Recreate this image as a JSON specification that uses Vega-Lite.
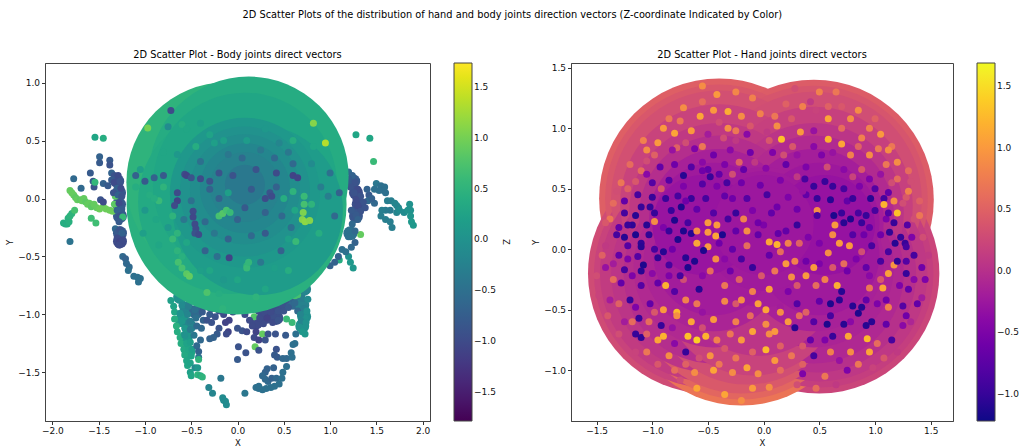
{"$schema":"https://vega.github.io/schema/vega-lite/v6.json","background":"white","padding":{"left":5,"top":9,"right":5,"bottom":0},"title":{"text":"2D Scatter Plots of the distribution of hand and body joints direction vectors (Z-coordinate Indicated by Color)","anchor":"middle","fontSize":9.8,"fontWeight":"normal","font":"DejaVu Sans","color":"#000","offset":30},
"datasets":{
"bodyMid":[{"x":-0.62,"y":-0.85,"z":0},{"x":-0.55,"y":-0.95,"z":-0.2},{"x":-0.6,"y":-1.05,"z":0.1},{"x":-0.52,"y":-1.1,"z":-0.2},{"x":-0.56,"y":-1.2,"z":0.1},{"x":-0.53,"y":-1.32,"z":0.3},{"x":-0.5,"y":-0.82,"z":-0.3},{"x":-0.42,"y":-0.85,"z":-0.6},{"x":-0.45,"y":-0.98,"z":-0.6},{"x":-0.36,"y":-0.9,"z":-0.8},{"x":-0.28,"y":-0.92,"z":-0.9},{"x":-0.2,"y":-0.9,"z":-0.9},{"x":0.25,"y":-0.95,"z":-1},{"x":0.32,"y":-1.02,"z":-1},{"x":0.4,"y":-0.95,"z":-1},{"x":0.42,"y":-1.03,"z":-0.95},{"x":0.5,"y":-0.9,"z":-0.9},{"x":0.55,"y":-0.82,"z":-0.8},{"x":0.6,"y":-0.9,"z":-0.6},{"x":0.66,"y":-0.82,"z":-0.4},{"x":0.7,"y":-0.92,"z":-0.25},{"x":0.72,"y":-0.78,"z":-0.2},{"x":0.72,"y":-1.02,"z":-0.05},{"x":0.3,"y":-0.88,"z":-1},{"x":0.4,"y":-0.85,"z":-1},{"x":0.2,"y":-1.07,"z":-1},{"x":0.7,"y":-1.1,"z":0.05},{"x":-1.3,"y":0.15,"z":-0.9},{"x":-1.28,"y":0.05,"z":-0.85},{"x":-1.28,"y":-0.05,"z":-0.85},{"x":-1.27,"y":-0.15,"z":-0.8},{"x":-1.27,"y":-0.3,"z":-0.8},{"x":-1.27,"y":-0.37,"z":-1},{"x":1.25,"y":0.15,"z":-0.8},{"x":1.28,"y":0.05,"z":-0.95},{"x":1.31,"y":-0.05,"z":-0.95},{"x":1.28,"y":-0.15,"z":-0.85},{"x":1.22,"y":-0.3,"z":-0.5}],
"bodyOut":[{"x":-1.81,"y":0.07,"z":0.9},{"x":-1.79,"y":0.05,"z":0.9},{"x":-1.77,"y":0.03,"z":0.9},{"x":-1.75,"y":0.01,"z":0.85},{"x":-1.73,"y":-0.01,"z":0.9},{"x":-1.7,"y":-0.01,"z":0.85},{"x":-1.68,"y":-0.02,"z":0.9},{"x":-1.66,"y":0.0,"z":0.9},{"x":-1.64,"y":-0.03,"z":0.85},{"x":-1.62,"y":-0.05,"z":0.9},{"x":-1.6,"y":-0.04,"z":0.9},{"x":-1.58,"y":-0.07,"z":0.85},{"x":-1.55,"y":-0.05,"z":0.9},{"x":-1.52,"y":-0.08,"z":0.9},{"x":-1.49,"y":-0.09,"z":0.95},{"x":-1.45,"y":-0.07,"z":0.95},{"x":-1.42,"y":-0.09,"z":0.95},{"x":-1.38,"y":-0.1,"z":0.95},{"x":-1.35,"y":-0.11,"z":0.95},{"x":-1.32,"y":0.02,"z":0.85},{"x":-1.33,"y":-0.05,"z":0.85},{"x":-1.88,"y":-0.21,"z":0.4},{"x":-1.86,"y":-0.22,"z":0.4},{"x":-1.84,"y":-0.22,"z":0.4},{"x":-1.82,"y":-0.2,"z":0.45},{"x":-1.83,"y":-0.17,"z":0.45},{"x":-1.81,"y":-0.15,"z":0.5},{"x":-1.79,"y":-0.13,"z":0.5},{"x":-1.76,"y":-0.1,"z":0.7},{"x":-1.58,"y":-0.17,"z":0.65},{"x":-1.53,"y":-0.21,"z":0.65},{"x":-1.81,"y":-0.37,"z":-0.45},{"x":-1.77,"y":0.17,"z":-0.6},{"x":-1.69,"y":0.09,"z":-0.6},{"x":-1.59,"y":0.22,"z":-0.8},{"x":-1.56,"y":0.15,"z":-0.8},{"x":-1.55,"y":0.1,"z":-0.9},{"x":-1.45,"y":0.13,"z":-0.7},{"x":-1.4,"y":0.11,"z":-0.8},{"x":-1.48,"y":-0.01,"z":-0.9},{"x":-1.45,"y":-0.03,"z":-1},{"x":-1.49,"y":0.36,"z":-0.7},{"x":-1.49,"y":0.31,"z":-0.8},{"x":-1.38,"y":0.33,"z":-0.8},{"x":-1.38,"y":0.29,"z":-0.9},{"x":-1.54,"y":0.53,"z":0.3},{"x":-1.45,"y":0.52,"z":0.4},{"x":-1.54,"y":0.14,"z":0.55},
{"x":-1.36,"y":0.22,"z":-0.7},{"x":-1.33,"y":0.2,"z":-0.9},{"x":-1.36,"y":0.16,"z":-0.8},{"x":-1.33,"y":0.14,"z":-1},{"x":-1.29,"y":0.2,"z":-1},{"x":-1.27,"y":0.15,"z":-0.9},{"x":-1.3,"y":0.09,"z":-0.7},{"x":-1.26,"y":0.09,"z":-1},{"x":-1.34,"y":0.05,"z":-0.9},{"x":-1.29,"y":0.03,"z":-0.7},{"x":-1.25,"y":0.02,"z":-0.9},{"x":-1.28,"y":-0.04,"z":-1},{"x":-1.25,"y":-0.09,"z":-0.8},{"x":-1.3,"y":-0.1,"z":-0.7},{"x":-1.27,"y":-0.15,"z":-0.9},{"x":-1.24,"y":-0.16,"z":0.6},{"x":-1.28,"y":-0.2,"z":-0.8},{"x":-1.32,"y":-0.26,"z":-0.6},{"x":-1.3,"y":-0.29,"z":-0.8},{"x":-1.27,"y":-0.27,"z":-0.9},{"x":-1.25,"y":-0.3,"z":-0.7},{"x":-1.3,"y":-0.34,"z":-1},{"x":-1.27,"y":-0.37,"z":-1.1},{"x":-1.24,"y":-0.36,"z":-1},{"x":-1.28,"y":-0.4,"z":-1},{"x":-1.24,"y":-0.5,"z":-0.6},{"x":-1.21,"y":-0.52,"z":-0.7},{"x":-1.2,"y":-0.56,"z":-0.6},{"x":-1.17,"y":-0.59,"z":-0.6},{"x":-1.18,"y":-0.62,"z":-0.5},{"x":-1.12,"y":-0.67,"z":-0.5},{"x":-1.08,"y":-0.68,"z":-0.5},{"x":-1.05,"y":-0.69,"z":-0.5},{"x":-1.07,"y":-0.72,"z":-0.5},
{"x":1.28,"y":0.55,"z":0.3},{"x":1.43,"y":0.52,"z":0.3},{"x":1.47,"y":0.32,"z":0.6},{"x":1.33,"y":-0.31,"z":0.9},{"x":1.1,"y":-0.53,"z":0.4},{"x":1.25,"y":-0.6,"z":0.1},{"x":1.22,"y":-0.55,"z":0.1},{"x":1.2,"y":-0.5,"z":0},{"x":1.5,"y":0.13,"z":-0.4},{"x":1.55,"y":0.11,"z":-0.5},{"x":1.59,"y":0.1,"z":-0.5},{"x":1.58,"y":0.07,"z":-0.5},{"x":1.48,"y":0.08,"z":-0.5},{"x":1.53,"y":0.07,"z":-0.5},{"x":1.6,"y":0.05,"z":-0.5},{"x":1.62,"y":-0.02,"z":-0.3},{"x":1.66,"y":-0.02,"z":-0.3},{"x":1.7,"y":-0.04,"z":-0.2},{"x":1.72,"y":-0.06,"z":-0.2},{"x":1.74,"y":-0.08,"z":-0.2},{"x":1.72,"y":-0.12,"z":-0.2},{"x":1.65,"y":-0.1,"z":-0.35},{"x":1.6,"y":-0.1,"z":-0.35},{"x":1.56,"y":-0.1,"z":-0.3},{"x":1.55,"y":-0.15,"z":-0.3},{"x":1.6,"y":-0.18,"z":-0.3},{"x":1.65,"y":-0.2,"z":-0.3},{"x":1.67,"y":-0.25,"z":-0.3},{"x":1.75,"y":-0.1,"z":-0.1},{"x":1.8,"y":-0.12,"z":-0.1},{"x":1.84,"y":-0.1,"z":0},{"x":1.86,"y":-0.05,"z":0},{"x":1.87,"y":-0.1,"z":0},{"x":1.87,"y":-0.15,"z":0.05},{"x":1.88,"y":-0.2,"z":0.1},{"x":1.9,"y":-0.23,"z":0.1},{"x":1.42,"y":0.03,"z":-0.8},{"x":1.4,"y":0.08,"z":-0.7},{"x":1.41,"y":-0.02,"z":-0.6},{"x":1.48,"y":-0.04,"z":-0.6},{"x":1.45,"y":0.0,"z":-0.7},
{"x":1.2,"y":0.23,"z":-0.6},{"x":1.24,"y":0.2,"z":-0.7},{"x":1.2,"y":0.17,"z":-0.8},{"x":1.27,"y":0.14,"z":-0.9},{"x":1.22,"y":0.1,"z":-0.9},{"x":1.3,"y":0.08,"z":-1},{"x":1.26,"y":0.05,"z":-0.9},{"x":1.33,"y":0.02,"z":-0.9},{"x":1.28,"y":-0.01,"z":-1},{"x":1.36,"y":-0.03,"z":-0.9},{"x":1.3,"y":-0.06,"z":-1},{"x":1.38,"y":-0.08,"z":-0.9},{"x":1.33,"y":-0.11,"z":-0.9},{"x":1.28,"y":-0.14,"z":-0.8},{"x":1.23,"y":-0.1,"z":-0.8},{"x":1.3,"y":-0.18,"z":-0.7},{"x":1.24,"y":-0.22,"z":-0.6},{"x":1.27,"y":-0.28,"z":-0.6},{"x":1.2,"y":-0.33,"z":-0.5},{"x":1.27,"y":-0.38,"z":-0.7},{"x":1.23,"y":-0.42,"z":-0.6},{"x":1.13,"y":-0.44,"z":-0.5},{"x":1.17,"y":-0.46,"z":-0.5},{"x":1.0,"y":-0.58,"z":-0.7},{"x":1.05,"y":-0.55,"z":-0.7},{"x":1.09,"y":-0.5,"z":-0.7},
{"x":-0.72,"y":-0.88,"z":0.2},{"x":-0.69,"y":-0.93,"z":0.25},{"x":-0.68,"y":-0.98,"z":0.3},{"x":-0.68,"y":-1.04,"z":0.4},{"x":-0.66,"y":-1.1,"z":0.45},{"x":-0.65,"y":-1.15,"z":0.4},{"x":-0.62,"y":-1.2,"z":0.4},{"x":-0.61,"y":-1.25,"z":0.4},{"x":-0.58,"y":-1.3,"z":0.35},{"x":-0.57,"y":-1.35,"z":0.35},{"x":-0.55,"y":-1.4,"z":0.3},{"x":-0.54,"y":-1.44,"z":0.3},{"x":-0.51,"y":-1.42,"z":0.25},{"x":-0.5,"y":-1.36,"z":0.25},{"x":-0.53,"y":-1.3,"z":0.3},{"x":-0.49,"y":-1.3,"z":0.2},{"x":-0.55,"y":-1.25,"z":0.25},{"x":-0.51,"y":-1.24,"z":0.2},{"x":-0.62,"y":-0.85,"z":0},{"x":-0.6,"y":-0.92,"z":-0.1},{"x":-0.62,"y":-0.99,"z":0},{"x":-0.6,"y":-1.06,"z":0.1},{"x":-0.57,"y":-1.12,"z":0.1},{"x":-0.57,"y":-1.18,"z":0},{"x":-0.54,"y":-0.85,"z":-0.2},{"x":-0.53,"y":-0.93,"z":-0.3},{"x":-0.54,"y":-1.0,"z":-0.2},{"x":-0.51,"y":-1.06,"z":-0.3},{"x":-0.51,"y":-1.13,"z":-0.3},{"x":-0.47,"y":-1.18,"z":-0.4},{"x":-0.46,"y":-0.88,"z":-0.6},{"x":-0.46,"y":-0.96,"z":-0.5},{"x":-0.45,"y":-1.03,"z":-0.5},{"x":-0.44,"y":-1.1,"z":-0.6},{"x":-0.39,"y":-0.9,"z":-0.7},{"x":-0.38,"y":-0.98,"z":-0.8},{"x":-0.37,"y":-1.05,"z":-0.7},{"x":-0.39,"y":-1.12,"z":-0.6},{"x":-0.32,"y":-0.93,"z":-0.9},{"x":-0.3,"y":-1.0,"z":-0.8},{"x":-0.33,"y":-1.05,"z":-0.9},{"x":-0.28,"y":-1.07,"z":-0.9},{"x":-0.24,"y":-1.02,"z":-0.9},{"x":-0.2,"y":-0.97,"z":-0.9},{"x":-0.15,"y":-1.0,"z":-1},{"x":-0.09,"y":-1.05,"z":-1.1},{"x":-0.13,"y":-1.07,"z":-1.1},{"x":-0.05,"y":-0.98,"z":-1},{"x":-0.2,"y":-1.12,"z":-0.9},{"x":-0.1,"y":-1.15,"z":-1.1},{"x":-0.22,"y":-1.17,"z":-0.8},{"x":-0.26,"y":-1.2,"z":-0.7},{"x":-0.3,"y":-1.21,"z":-0.7},{"x":-0.4,"y":-1.22,"z":-0.6},{"x":-0.44,"y":-1.27,"z":-0.6},{"x":-0.42,"y":-1.32,"z":-0.7},{"x":-0.42,"y":-1.37,"z":-0.5},{"x":-0.42,"y":-1.39,"z":0.5},{"x":-0.46,"y":-1.46,"z":-0.1},{"x":-0.43,"y":-1.46,"z":0.1},{"x":-0.51,"y":-1.5,"z":0.2},{"x":-0.5,"y":-1.53,"z":0.3},{"x":-0.43,"y":-1.52,"z":0.5},{"x":-0.4,"y":-1.53,"z":0.4},{"x":-0.38,"y":-1.54,"z":0.5},{"x":-0.18,"y":-1.55,"z":-0.4},{"x":-0.31,"y":-1.63,"z":-0.2},{"x":-0.27,"y":-1.68,"z":-0.2},{"x":-0.16,"y":-1.72,"z":-0.1},{"x":-0.15,"y":-1.74,"z":-0.1},{"x":-0.13,"y":-1.75,"z":-0.1},{"x":-0.12,"y":-1.78,"z":-0.1},{"x":0.08,"y":-1.68,"z":-0.4},{"x":0.0,"y":-1.39,"z":-0.8},{"x":0.01,"y":-1.28,"z":-0.9},{"x":0.09,"y":-1.33,"z":-0.9},{"x":0.19,"y":-1.28,"z":0.9},{"x":0.23,"y":-1.31,"z":-0.9},{"x":0.27,"y":-1.17,"z":0.9},{"x":0.18,"y":-1.02,"z":0.8},{"x":0.53,"y":-1.04,"z":0.6},{"x":0.59,"y":-1.07,"z":0.6},
{"x":-0.12,"y":-1.17,"z":-1},{"x":0.0,"y":-1.12,"z":-0.9},{"x":0.05,"y":-1.14,"z":-0.9},{"x":0.1,"y":-1.15,"z":-1},{"x":0.08,"y":-1.0,"z":-1},{"x":0.13,"y":-1.05,"z":-1},{"x":0.16,"y":-1.1,"z":-1},{"x":0.2,"y":-1.15,"z":-1.1},{"x":0.18,"y":-1.2,"z":-1},{"x":0.23,"y":-1.22,"z":-1.1},{"x":0.3,"y":-1.22,"z":-0.9},{"x":0.33,"y":-1.17,"z":-0.9},{"x":0.41,"y":-1.17,"z":-0.9},{"x":0.28,"y":-1.08,"z":-1},{"x":0.24,"y":-1.03,"z":-1},{"x":0.32,"y":-1.03,"z":-1.1},{"x":0.38,"y":-1.07,"z":-1},{"x":0.44,"y":-1.05,"z":-0.9},{"x":0.36,"y":-0.98,"z":-1},{"x":0.44,"y":-0.97,"z":-0.9},{"x":0.5,"y":-0.97,"z":-0.9},{"x":0.55,"y":-0.94,"z":-0.8},{"x":0.52,"y":-0.88,"z":-0.9},{"x":0.58,"y":-0.86,"z":-0.7},{"x":0.62,"y":-0.9,"z":-0.6},{"x":0.67,"y":-0.8,"z":-0.4},{"x":0.65,"y":-0.97,"z":-0.6},{"x":0.7,"y":-0.86,"z":-0.3},{"x":0.74,"y":-0.79,"z":-0.2},{"x":0.72,"y":-0.95,"z":-0.3},{"x":0.76,"y":-0.87,"z":-0.1},{"x":0.75,"y":-0.97,"z":0},{"x":0.73,"y":-1.03,"z":0},{"x":0.68,"y":-1.0,"z":-0.2},{"x":0.69,"y":-1.06,"z":-0.2},{"x":0.74,"y":-1.07,"z":0},{"x":0.72,"y":-1.12,"z":0},{"x":0.67,"y":-1.11,"z":0},{"x":0.73,"y":-1.17,"z":0.1},{"x":0.7,"y":-1.15,"z":0.1},{"x":0.75,"y":-0.72,"z":-0.1},{"x":0.6,"y":-0.75,"z":-0.5},{"x":0.45,"y":-0.88,"z":-1},{"x":0.62,"y":-0.84,"z":0.7},{"x":0.65,"y":-0.83,"z":0.7},{"x":0.52,"y":-1.18,"z":-0.8},{"x":0.63,"y":-1.17,"z":-0.5},{"x":0.62,"y":-1.25,"z":-0.5},{"x":0.6,"y":-1.26,"z":-0.5},{"x":0.42,"y":-1.3,"z":-0.9},{"x":0.4,"y":-1.35,"z":-0.8},{"x":0.43,"y":-1.37,"z":-0.8},{"x":0.49,"y":-1.38,"z":-0.6},{"x":0.53,"y":-1.38,"z":-0.6},{"x":0.58,"y":-1.33,"z":-0.5},{"x":0.59,"y":-1.37,"z":-0.5},{"x":0.53,"y":-1.45,"z":-0.5},{"x":0.49,"y":-1.5,"z":-0.5},{"x":0.39,"y":-1.46,"z":-0.7},{"x":0.32,"y":-1.47,"z":-0.7},{"x":0.3,"y":-1.5,"z":-0.7},{"x":0.27,"y":-1.53,"z":-0.6},{"x":0.3,"y":-1.56,"z":-0.6},{"x":0.33,"y":-1.58,"z":-0.6},{"x":0.37,"y":-1.55,"z":-0.7},{"x":0.42,"y":-1.55,"z":-0.6},{"x":0.48,"y":-1.55,"z":-0.5},{"x":0.45,"y":-1.6,"z":-0.5},{"x":0.4,"y":-1.62,"z":-0.5},{"x":0.36,"y":-1.63,"z":-0.5},{"x":0.31,"y":-1.64,"z":-0.5},{"x":0.27,"y":-1.65,"z":-0.5},{"x":0.23,"y":-1.64,"z":-0.5},{"x":0.2,"y":-1.63,"z":-0.5},{"x":0.23,"y":-1.62,"z":-0.5}],
"bodyA":[{"x":-0.01,"y":-0.05,"z":0.45}],
"bodyB":[{"x":-0.12,"y":0.14,"z":0.5},{"x":0.12,"y":0.19,"z":0.38}],
"bodyC":[{"x":-0.08,"y":-0.03,"z":0.36},{"x":0.08,"y":0.12,"z":0.3}],
"bodyD":[{"x":0.22,"y":-0.1,"z":0.15}],
"bodyE":[{"x":0.08,"y":0.05,"z":0.1}],
"bodyE2":[{"x":0.08,"y":0.06,"z":0.0}],
"bodyF":[{"x":0.08,"y":0.08,"z":-0.08}],
"bodyF2":[{"x":0.08,"y":0.09,"z":-0.17}],
"bodyG":[{"x":0.08,"y":0.1,"z":-0.25}],
"bodyH":[{"x":0.08,"y":0.12,"z":-0.38}],
"bodyIn":[{"x":-0.75,"y":0.62,"z":-0.1},{"x":-0.72,"y":0.76,"z":-1},{"x":-0.97,"y":0.61,"z":1.0},{"x":0.82,"y":0.65,"z":1.1},{"x":0.95,"y":0.48,"z":1.35},{"x":-0.6,"y":0.64,"z":0.4},{"x":-0.55,"y":0.6,"z":0.3},{"x":-0.4,"y":0.65,"z":0.2},{"x":-0.45,"y":0.45,"z":0.4},{"x":-0.3,"y":0.55,"z":0.25},{"x":-0.25,"y":0.48,"z":0.2},{"x":-0.15,"y":0.5,"z":0.2},{"x":0.1,"y":0.5,"z":0.15},{"x":0.3,"y":0.6,"z":0.1},{"x":0.6,"y":0.5,"z":0.4},{"x":0.55,"y":0.4,"z":-0.4},{"x":0.4,"y":0.35,"z":-0.6},{"x":0.6,"y":0.3,"z":-0.6},{"x":0.2,"y":0.25,"z":-0.9},{"x":0.42,"y":0.22,"z":-1},{"x":0.6,"y":0.2,"z":-1.1},{"x":0.65,"y":0.18,"z":-1.1},{"x":-0.57,"y":0.21,"z":-1},{"x":-0.55,"y":0.2,"z":-1.1},{"x":-0.5,"y":0.18,"z":-0.9},{"x":-0.4,"y":0.17,"z":-1},{"x":-0.3,"y":0.15,"z":-0.9},{"x":-0.2,"y":0.22,"z":-0.9},{"x":-0.05,"y":0.2,"z":-0.9},{"x":-0.65,"y":0.05,"z":-1},{"x":-0.65,"y":-0.02,"z":-1.1},{"x":-0.68,"y":-0.06,"z":-1},{"x":-0.3,"y":0.08,"z":-0.7},{"x":0.35,"y":0.05,"z":-0.9},{"x":0.37,"y":0.02,"z":-1},{"x":0.3,"y":0.0,"z":-1},{"x":0.15,"y":0.08,"z":-0.8},{"x":-0.1,"y":0.05,"z":0.2},{"x":-0.9,"y":0.18,"z":-0.7},{"x":-1.0,"y":0.15,"z":-0.8},{"x":-1.1,"y":0.2,"z":-0.7},{"x":-0.8,"y":0.2,"z":-0.8},{"x":-1.1,"y":0.1,"z":0.4},{"x":-0.8,"y":0.1,"z":0.5},{"x":-0.95,"y":0.03,"z":0.4},{"x":-0.85,"y":-0.02,"z":0.6},{"x":-0.9,"y":0.0,"z":0.4},{"x":-0.48,"y":-0.11,"z":-1},{"x":-0.48,"y":-0.16,"z":-1.05},{"x":-0.46,"y":-0.22,"z":-1},{"x":-0.45,"y":-0.26,"z":-1},{"x":-0.46,"y":-0.3,"z":-0.9},{"x":-0.42,"y":-0.31,"z":-1},{"x":-0.2,"y":-0.15,"z":0.7},{"x":-0.16,"y":-0.13,"z":0.8},{"x":-0.12,"y":-0.1,"z":0.7},{"x":-0.08,"y":-0.12,"z":0.6},{"x":0.71,"y":-0.12,"z":1.05},{"x":0.7,"y":-0.18,"z":1.1},{"x":0.73,"y":-0.2,"z":1.15},{"x":0.78,"y":-0.19,"z":1.1},{"x":0.72,"y":-0.05,"z":0.7},{"x":0.72,"y":0.02,"z":0.6},{"x":0.6,"y":0.06,"z":0.5},{"x":0.5,"y":0.0,"z":0.4},{"x":0.8,"y":-0.05,"z":0.5},{"x":-0.7,"y":-0.15,"z":0.5},{"x":-0.65,"y":-0.3,"z":0.5},{"x":-0.7,"y":-0.35,"z":0.6},{"x":-0.65,"y":-0.45,"z":0.5},{"x":-0.6,"y":-0.5,"z":0.45},{"x":-0.64,"y":-0.55,"z":0.7},{"x":-0.6,"y":-0.6,"z":0.7},{"x":-0.55,"y":-0.65,"z":0.85},{"x":-0.52,"y":-0.67,"z":0.9},{"x":-0.35,"y":-0.45,"z":-0.7},{"x":-0.09,"y":-0.51,"z":-1.1},{"x":0.1,"y":-0.58,"z":0.5},{"x":0.1,"y":-0.6,"z":0.6},{"x":0.12,"y":-0.55,"z":0.55},{"x":0.0,"y":-0.18,"z":-0.7},{"x":-0.1,"y":-0.35,"z":-0.7},{"x":0.3,"y":-0.3,"z":-0.8},{"x":0.47,"y":-0.45,"z":-0.7},{"x":0.55,"y":-0.35,"z":0.2},{"x":0.63,"y":-0.37,"z":0.6},{"x":0.0,"y":-0.7,"z":0.3},{"x":-0.33,"y":-0.81,"z":0.75},{"x":-0.2,"y":-0.82,"z":0.4},{"x":0.2,"y":-0.85,"z":0.5},{"x":-0.16,"y":-0.95,"z":0.5},{"x":-1.05,"y":0.25,"z":0.2},{"x":-1.0,"y":-0.1,"z":0.1},{"x":-1.02,"y":-0.3,"z":0.2},{"x":-0.88,"y":-0.18,"z":0.3},{"x":-0.85,"y":-0.4,"z":0.3},{"x":-0.75,"y":-0.25,"z":0.1},{"x":-0.58,"y":-0.18,"z":-0.4},{"x":-0.55,"y":-0.38,"z":0.3},{"x":-0.35,"y":-0.2,"z":-0.6},{"x":-0.25,"y":-0.3,"z":-0.4},{"x":-0.22,"y":-0.5,"z":-0.5},{"x":-0.4,"y":-0.62,"z":0.2},{"x":-0.15,"y":-0.7,"z":0.1},{"x":0.25,"y":-0.55,"z":-0.4},{"x":0.4,"y":-0.6,"z":0.2},{"x":0.15,"y":-0.32,"z":-0.6},{"x":0.3,"y":-0.12,"z":-0.7},{"x":0.48,"y":-0.15,"z":-0.6},{"x":0.58,"y":-0.25,"z":-0.5},{"x":0.88,"y":-0.3,"z":0.4},{"x":0.9,"y":0.1,"z":-0.3},{"x":0.98,"y":0.02,"z":-0.3},{"x":1.05,"y":-0.15,"z":-0.6},{"x":1.1,"y":0.05,"z":-0.7},{"x":1.0,"y":0.22,"z":-0.5},{"x":0.8,"y":0.3,"z":-0.1},{"x":0.82,"y":0.45,"z":0.3},{"x":0.05,"y":0.35,"z":-0.6},{"x":-0.1,"y":0.38,"z":-0.4},{"x":-0.4,"y":0.32,"z":-0.5},{"x":-0.65,"y":0.38,"z":0.1},{"x":-0.8,"y":0.4,"z":0.3},{"x":0.25,"y":0.42,"z":-0.4},{"x":0.45,"y":0.48,"z":-0.2},{"x":-0.5,"y":-0.02,"z":-0.5},{"x":-0.2,"y":0.0,"z":-0.7},{"x":0.08,"y":-0.08,"z":-0.8},{"x":0.42,"y":0.1,"z":-0.7},{"x":0.62,"y":-0.1,"z":0.3},{"x":-0.3,"y":-0.62,"z":0.3},{"x":0.3,"y":-0.78,"z":0.3},{"x":0.55,"y":-0.62,"z":0.4}],
"hR120":[{"x":-0.4,"y":0.42,"z":0.48},{"x":0.45,"y":0.41,"z":0.45},{"x":-0.5,"y":-0.2,"z":0.28},{"x":0.5,"y":-0.2,"z":0.22},{"x":-0.2,"y":-0.3,"z":0.68}],
"hR114":[{"x":-0.4,"y":0.42,"z":0.4},{"x":0.45,"y":0.41,"z":0.38},{"x":-0.5,"y":-0.2,"z":0.2},{"x":0.5,"y":-0.2,"z":0.15},{"x":-0.2,"y":-0.3,"z":0.55}],
"hR108":[{"x":-0.4,"y":0.42,"z":0.32},{"x":0.45,"y":0.41,"z":0.3},{"x":-0.5,"y":-0.2,"z":0.12},{"x":0.5,"y":-0.2,"z":0.08},{"x":-0.2,"y":-0.3,"z":0.42}],
"hR99":[{"x":-0.4,"y":0.38,"z":0.2},{"x":0.45,"y":0.36,"z":0.17},{"x":-0.48,"y":-0.2,"z":0.05},{"x":0.48,"y":-0.2,"z":0.0},{"x":-0.15,"y":-0.3,"z":0.3}],
"hR90":[{"x":-0.4,"y":0.3,"z":0.1},{"x":0.45,"y":0.3,"z":0.05},{"x":-0.45,"y":-0.2,"z":-0.02},{"x":0.45,"y":-0.2,"z":-0.08},{"x":-0.1,"y":-0.3,"z":0.2}],
"hR80":[{"x":-0.4,"y":0.28,"z":-0.02},{"x":0.45,"y":0.28,"z":-0.06},{"x":-0.45,"y":-0.15,"z":-0.07},{"x":0.45,"y":-0.15,"z":-0.12},{"x":-0.05,"y":-0.22,"z":0.05}],
"hR70":[{"x":-0.4,"y":0.25,"z":-0.15},{"x":0.45,"y":0.25,"z":-0.18},{"x":-0.45,"y":-0.1,"z":-0.12},{"x":0.45,"y":-0.1,"z":-0.15},{"x":0.0,"y":0.1,"z":-0.18}],
"hR60":[{"x":-0.45,"y":0.22,"z":-0.22},{"x":0.5,"y":0.22,"z":-0.24},{"x":-0.45,"y":-0.05,"z":-0.2},{"x":0.5,"y":-0.05,"z":-0.22},{"x":0.0,"y":0.15,"z":-0.22}],
"hR50":[{"x":-0.55,"y":0.2,"z":-0.28},{"x":0.55,"y":0.2,"z":-0.3},{"x":0.0,"y":0.2,"z":-0.25}],
"handDots":[{"x":-0.55,"y":1.35,"z":0.9},{"x":-0.42,"y":1.28,"z":1.0},{"x":-0.25,"y":1.3,"z":0.85},{"x":-0.1,"y":1.25,"z":0.8},{"x":0.28,"y":1.33,"z":0.3},{"x":0.5,"y":1.3,"z":0.8},{"x":0.65,"y":1.3,"z":0.7},{"x":0.85,"y":1.15,"z":0.9},{"x":-0.72,"y":1.17,"z":0.9},{"x":-0.57,"y":1.1,"z":1.1},{"x":-0.45,"y":1.15,"z":1.0},{"x":-0.32,"y":1.14,"z":1.15},{"x":-0.2,"y":1.1,"z":0.9},{"x":-0.03,"y":1.12,"z":0.8},{"x":0.1,"y":1.1,"z":0.7},{"x":0.35,"y":1.18,"z":0.8},{"x":0.47,"y":1.15,"z":0.2},{"x":0.58,"y":1.08,"z":1.1},{"x":0.78,"y":1.08,"z":0.9},{"x":0.95,"y":1.0,"z":0.8},{"x":1.05,"y":0.95,"z":1.0},{"x":-0.9,"y":1.0,"z":1.0},{"x":-0.8,"y":0.96,"z":1.1},{"x":-0.65,"y":0.98,"z":1.0},{"x":-0.5,"y":0.95,"z":-0.2},{"x":-0.36,"y":0.92,"z":0.3},{"x":-0.15,"y":0.95,"z":-0.4},{"x":0.03,"y":0.97,"z":0.1},{"x":0.16,"y":0.91,"z":1.3},{"x":0.33,"y":0.97,"z":1.0},{"x":0.45,"y":0.98,"z":-0.3},{"x":0.58,"y":0.91,"z":1.2},{"x":0.7,"y":0.87,"z":1.1},{"x":0.88,"y":0.92,"z":0.8},{"x":1.03,"y":0.83,"z":0.7},{"x":1.2,"y":0.72,"z":0.9},{"x":-1.08,"y":0.9,"z":0.8},{"x":-0.95,"y":0.88,"z":1.0},{"x":-0.78,"y":0.84,"z":0.5},{"x":-0.62,"y":0.83,"z":-0.5},{"x":-0.45,"y":0.78,"z":-0.6},{"x":-0.3,"y":0.82,"z":-0.4},{"x":-0.12,"y":0.8,"z":-0.6},{"x":0.08,"y":0.8,"z":-0.5},{"x":0.26,"y":0.85,"z":0.4},{"x":0.45,"y":0.85,"z":-0.4},{"x":0.62,"y":0.8,"z":-0.3},{"x":0.78,"y":0.78,"z":0.8},{"x":0.95,"y":0.78,"z":0.9},{"x":1.1,"y":0.7,"z":0.7},{"x":-1.2,"y":0.7,"z":0.6},{"x":-1.05,"y":0.73,"z":0.3},{"x":-0.93,"y":0.68,"z":-0.7},{"x":-0.8,"y":0.7,"z":-0.6},{"x":-0.65,"y":0.68,"z":-0.8},{"x":-0.5,"y":0.66,"z":-0.7},{"x":-0.35,"y":0.7,"z":-0.5},{"x":-0.18,"y":0.66,"z":-0.7},{"x":0.02,"y":0.67,"z":-0.4},{"x":0.2,"y":0.7,"z":-0.7},{"x":0.38,"y":0.68,"z":-0.5},{"x":0.57,"y":0.68,"z":0.3},{"x":0.72,"y":0.66,"z":-0.4},{"x":0.88,"y":0.66,"z":0.4},{"x":1.05,"y":0.62,"z":-0.3},{"x":1.2,"y":0.58,"z":0.6},{"x":1.32,"y":0.56,"z":0.3},{"x":-1.32,"y":0.48,"z":0.3},{"x":-1.15,"y":0.56,"z":0.4},{"x":-1.0,"y":0.55,"z":-0.8},{"x":-0.85,"y":0.57,"z":-0.8},{"x":-0.72,"y":0.61,"z":-1.1},{"x":-0.55,"y":0.54,"z":-0.8},{"x":-0.48,"y":0.6,"z":-1.0},{"x":-0.33,"y":0.55,"z":-0.9},{"x":-0.2,"y":0.55,"z":-0.6},{"x":-0.03,"y":0.53,"z":-0.6},{"x":0.15,"y":0.57,"z":-0.5},{"x":0.37,"y":0.58,"z":-0.9},{"x":0.45,"y":0.52,"z":-1.0},{"x":0.55,"y":0.56,"z":-1.0},{"x":0.62,"y":0.52,"z":-1.0},{"x":0.72,"y":0.5,"z":-0.9},{"x":0.86,"y":0.52,"z":-0.5},{"x":1.0,"y":0.5,"z":-0.8},{"x":1.12,"y":0.47,"z":-0.7},{"x":1.28,"y":0.43,"z":0.4},{"x":-1.25,"y":0.4,"z":-0.7},{"x":-1.13,"y":0.45,"z":-0.9},{"x":-1.0,"y":0.43,"z":-1.0},{"x":-0.88,"y":0.42,"z":-1.0},{"x":-0.77,"y":0.44,"z":-0.9},{"x":-0.65,"y":0.42,"z":-1.0},{"x":-0.52,"y":0.42,"z":-0.9},{"x":-0.35,"y":0.44,"z":-0.7},{"x":-0.15,"y":0.42,"z":-0.8},{"x":0.03,"y":0.45,"z":-0.9},{"x":0.22,"y":0.43,"z":-0.5},{"x":0.48,"y":0.42,"z":-1.0},{"x":0.6,"y":0.41,"z":-1.1},{"x":0.75,"y":0.4,"z":-0.7},{"x":0.96,"y":0.42,"z":-1.1},{"x":1.08,"y":0.42,"z":-0.9},{"x":1.17,"y":0.4,"z":0.9},{"x":-1.38,"y":0.25,"z":0.7},{"x":-1.25,"y":0.3,"z":-0.9},{"x":-1.1,"y":0.35,"z":-1.0},{"x":-0.98,"y":0.3,"z":-1.0},{"x":-0.83,"y":0.32,"z":-1.0},{"x":-0.74,"y":0.35,"z":-1.15},{"x":-0.6,"y":0.33,"z":-0.7},{"x":-0.45,"y":0.3,"z":-0.8},{"x":-0.25,"y":0.3,"z":-1.0},{"x":-0.1,"y":0.32,"z":-0.5},{"x":0.07,"y":0.3,"z":-0.7},{"x":0.3,"y":0.33,"z":-0.6},{"x":0.48,"y":0.32,"z":0.9},{"x":0.63,"y":0.28,"z":-1.15},{"x":0.7,"y":0.3,"z":-1.0},{"x":0.85,"y":0.3,"z":-0.9},{"x":1.0,"y":0.32,"z":-0.9},{"x":1.08,"y":0.37,"z":1.2},{"x":1.2,"y":0.3,"z":1.3},{"x":1.35,"y":0.25,"z":0.3},{"x":-1.3,"y":0.18,"z":-0.7},{"x":-1.18,"y":0.2,"z":-1.05},{"x":-1.05,"y":0.2,"z":-1.1},{"x":-0.98,"y":0.23,"z":0.9},{"x":-0.8,"y":0.24,"z":-1.15},{"x":-0.68,"y":0.22,"z":-0.9},{"x":-0.5,"y":0.22,"z":1.0},{"x":-0.42,"y":0.2,"z":1.0},{"x":-0.32,"y":0.25,"z":-0.9},{"x":-0.18,"y":0.25,"z":0.8},{"x":0.0,"y":0.2,"z":-0.5},{"x":0.3,"y":0.2,"z":-1.0},{"x":0.48,"y":0.28,"z":-0.9},{"x":0.64,"y":0.2,"z":1.0},{"x":0.72,"y":0.22,"z":-1.1},{"x":0.88,"y":0.22,"z":-1.0},{"x":1.17,"y":0.22,"z":-1.0},{"x":1.29,"y":0.2,"z":-0.8},{"x":-1.32,"y":0.12,"z":-0.9},{"x":-1.25,"y":0.1,"z":-1.1},{"x":-1.15,"y":0.12,"z":-1.15},{"x":-1.03,"y":0.12,"z":-1.05},{"x":-0.72,"y":0.15,"z":-1.15},{"x":-0.65,"y":0.13,"z":-1.1},{"x":-0.6,"y":0.15,"z":0.9},{"x":-0.5,"y":0.14,"z":1.0},{"x":-0.43,"y":0.11,"z":1.1},{"x":-0.37,"y":0.12,"z":-1.15},{"x":-0.15,"y":0.15,"z":0.9},{"x":0.13,"y":0.13,"z":-0.7},{"x":0.62,"y":0.12,"z":0.9},{"x":0.8,"y":0.12,"z":-0.8},{"x":1.13,"y":0.14,"z":-1.05},{"x":1.23,"y":0.1,"z":-1.0},{"x":1.33,"y":0.1,"z":-0.5},{"x":-1.42,"y":0.03,"z":0.1},{"x":-1.22,"y":0.03,"z":-0.8},{"x":-1.1,"y":0.05,"z":-1.05},{"x":-0.98,"y":0.0,"z":-0.9},{"x":-0.9,"y":-0.02,"z":-1.1},{"x":-0.77,"y":0.08,"z":-1.15},{"x":-0.6,"y":0.05,"z":1.1},{"x":-0.5,"y":0.02,"z":1.0},{"x":-0.54,"y":-0.01,"z":-1.15},{"x":-0.15,"y":0.03,"z":0.6},{"x":0.05,"y":0.06,"z":1.1},{"x":0.12,"y":0.04,"z":1.2},{"x":0.22,"y":0.05,"z":0.8},{"x":0.5,"y":0.05,"z":-0.5},{"x":0.68,"y":0.05,"z":1.0},{"x":0.77,"y":0.03,"z":1.0},{"x":0.97,"y":0.03,"z":-0.9},{"x":1.18,"y":0.05,"z":-1.1},{"x":1.27,"y":0.05,"z":-1.0},{"x":-1.3,"y":-0.05,"z":-0.7},{"x":-1.13,"y":-0.06,"z":-0.8},{"x":-0.95,"y":-0.07,"z":-1.05},{"x":-0.7,"y":-0.07,"z":-1.1},{"x":-0.62,"y":-0.1,"z":-1.15},{"x":-0.43,"y":-0.08,"z":0.9},{"x":-0.2,"y":-0.08,"z":-0.9},{"x":0.05,"y":-0.05,"z":-0.7},{"x":0.28,"y":-0.1,"z":0.8},{"x":0.58,"y":-0.03,"z":0.9},{"x":0.83,"y":-0.08,"z":-0.5},{"x":1.05,"y":-0.1,"z":-0.9},{"x":1.17,"y":-0.13,"z":0.95},{"x":1.2,"y":-0.1,"z":-1.05},{"x":1.35,"y":-0.05,"z":-0.9},{"x":-1.42,"y":-0.15,"z":-0.3},{"x":-1.25,"y":-0.17,"z":-0.9},{"x":-1.08,"y":-0.13,"z":-1.15},{"x":-1.1,"y":-0.18,"z":-1.1},{"x":-0.85,"y":-0.13,"z":-0.9},{"x":-0.68,"y":-0.15,"z":-1.15},{"x":-0.48,"y":-0.18,"z":0.6},{"x":-0.1,"y":-0.15,"z":-1.0},{"x":0.1,"y":-0.18,"z":0.7},{"x":0.25,"y":-0.23,"z":0.9},{"x":0.38,"y":-0.22,"z":1.0},{"x":0.62,"y":-0.15,"z":0.4},{"x":0.92,"y":-0.15,"z":-0.7},{"x":1.12,"y":-0.2,"z":1.05},{"x":1.28,"y":-0.2,"z":-1.0},{"x":1.42,"y":-0.15,"z":-0.6},{"x":-1.28,"y":-0.28,"z":-0.7},{"x":-1.1,"y":-0.3,"z":-0.8},{"x":-0.95,"y":-0.28,"z":-0.7},{"x":-0.88,"y":-0.3,"z":1.2},{"x":-0.8,"y":-0.35,"z":-0.8},{"x":-0.58,"y":-0.33,"z":-1.1},{"x":-0.35,"y":-0.3,"z":0.7},{"x":-0.1,"y":-0.35,"z":0.8},{"x":0.05,"y":-0.33,"z":1.05},{"x":0.3,"y":-0.3,"z":0.4},{"x":0.47,"y":-0.3,"z":0.6},{"x":0.66,"y":-0.3,"z":1.15},{"x":0.7,"y":-0.35,"z":-1.1},{"x":0.95,"y":-0.32,"z":0.7},{"x":1.07,"y":-0.32,"z":1.1},{"x":1.3,"y":-0.33,"z":-0.7},{"x":-1.38,"y":-0.42,"z":-0.2},{"x":-1.2,"y":-0.42,"z":-1.0},{"x":-1.02,"y":-0.45,"z":-0.7},{"x":-0.9,"y":-0.5,"z":1.0},{"x":-0.78,"y":-0.52,"z":1.25},{"x":-0.6,"y":-0.45,"z":0.7},{"x":-0.35,"y":-0.43,"z":0.85},{"x":-0.05,"y":-0.45,"z":1.05},{"x":0.02,"y":-0.5,"z":1.1},{"x":0.3,"y":-0.45,"z":-0.8},{"x":0.5,"y":-0.43,"z":-0.7},{"x":0.6,"y":-0.45,"z":-1.15},{"x":0.68,"y":-0.42,"z":-1.1},{"x":0.85,"y":-0.53,"z":-1.15},{"x":0.8,"y":-0.47,"z":-1.1},{"x":0.88,"y":-0.48,"z":-1.1},{"x":1.12,"y":-0.48,"z":0.8},{"x":1.25,"y":-0.47,"z":-0.8},{"x":-1.25,"y":-0.6,"z":-0.2},{"x":-1.12,"y":-0.57,"z":-1.0},{"x":-1.03,"y":-0.6,"z":0.6},{"x":-0.92,"y":-0.63,"z":-1.0},{"x":-0.78,"y":-0.55,"z":0.9},{"x":-0.65,"y":-0.6,"z":1.1},{"x":-0.45,"y":-0.58,"z":1.0},{"x":-0.25,"y":-0.6,"z":0.8},{"x":0.02,"y":-0.62,"z":0.9},{"x":0.22,"y":-0.6,"z":1.0},{"x":0.45,"y":-0.6,"z":-0.8},{"x":0.57,"y":-0.62,"z":-1.15},{"x":0.72,"y":-0.62,"z":-1.1},{"x":0.92,"y":-0.63,"z":-1.1},{"x":0.97,"y":-0.6,"z":-1.1},{"x":1.1,"y":-0.62,"z":-0.7},{"x":1.25,"y":-0.63,"z":-0.4},{"x":-1.15,"y":-0.7,"z":-1.0},{"x":-1.1,"y":-0.73,"z":-1.05},{"x":-0.95,"y":-0.75,"z":1.1},{"x":-0.9,"y":-0.72,"z":1.2},{"x":-0.68,"y":-0.72,"z":1.3},{"x":-0.6,"y":-0.75,"z":1.4},{"x":-0.42,"y":-0.75,"z":0.8},{"x":-0.2,"y":-0.75,"z":1.0},{"x":0.05,"y":-0.7,"z":0.9},{"x":0.28,"y":-0.65,"z":-1.1},{"x":0.42,"y":-0.75,"z":-0.7},{"x":0.62,"y":-0.72,"z":-1.0},{"x":0.76,"y":-0.72,"z":1.1},{"x":0.93,"y":-0.74,"z":1.25},{"x":1.15,"y":-0.75,"z":-0.9},{"x":-1.05,"y":-0.85,"z":0.7},{"x":-0.85,"y":-0.88,"z":0.9},{"x":-0.7,"y":-0.85,"z":-1.0},{"x":-0.48,"y":-0.88,"z":0.95},{"x":-0.25,"y":-0.9,"z":0.7},{"x":0.02,"y":-0.83,"z":1.25},{"x":0.25,"y":-0.88,"z":0.7},{"x":0.45,"y":-0.88,"z":-0.9},{"x":0.6,"y":-0.85,"z":0.8},{"x":0.78,"y":-0.85,"z":0.9},{"x":0.95,"y":-0.85,"z":1.1},{"x":1.08,"y":-0.9,"z":0.4},{"x":-0.8,"y":-1.0,"z":0.6},{"x":-0.62,"y":-1.02,"z":0.9},{"x":-0.45,"y":-1.0,"z":1.1},{"x":-0.28,"y":-1.02,"z":0.9},{"x":-0.05,"y":-1.03,"z":0.9},{"x":0.15,"y":-1.0,"z":0.6},{"x":0.35,"y":-1.03,"z":-0.5},{"x":0.55,"y":-1.05,"z":0.7},{"x":0.75,"y":-1.0,"z":-0.5},{"x":-0.6,"y":-1.15,"z":1.1},{"x":-0.35,"y":-1.2,"z":1.1},{"x":-0.1,"y":-1.15,"z":1.0},{"x":0.05,"y":-1.14,"z":0.9},{"x":0.47,"y":-1.15,"z":0.6},
{"x":-1.45,"y":-0.05,"z":0.5},{"x":-1.35,"y":-0.25,"z":0.6},{"x":-1.3,"y":-0.45,"z":0.5},{"x":-1.18,"y":-0.6,"z":0.6},{"x":-1.15,"y":-0.85,"z":0.2},{"x":-0.95,"y":-0.95,"z":0.4},{"x":-1.35,"y":0.38,"z":0.6},{"x":-1.22,"y":0.5,"z":0.5},{"x":-1.1,"y":0.65,"z":0.6},{"x":-0.98,"y":0.78,"z":0.5},{"x":-0.75,"y":1.06,"z":0.7},{"x":-0.4,"y":1.05,"z":0.3},{"x":-0.12,"y":1.02,"z":0.4},{"x":0.2,"y":1.2,"z":0.5},{"x":0.7,"y":1.18,"z":0.4},{"x":1.0,"y":1.08,"z":0.5},{"x":1.15,"y":0.85,"z":0.7},{"x":1.3,"y":0.65,"z":0.6},{"x":1.4,"y":0.4,"z":0.5},{"x":1.43,"y":0.1,"z":0.3},{"x":1.48,"y":-0.05,"z":0.1},{"x":1.42,"y":-0.4,"z":-0.2},{"x":1.32,"y":-0.6,"z":-0.1},{"x":1.2,"y":-0.85,"z":0.1},{"x":0.98,"y":-0.98,"z":0.2},{"x":0.65,"y":-1.12,"z":0.1},{"x":0.3,"y":-1.12,"z":0.3},{"x":-0.2,"y":-1.25,"z":0.9},{"x":-0.75,"y":-1.08,"z":0.3},
{"x":-0.9,"y":0.18,"z":-0.5},{"x":-0.82,"y":0.0,"z":-0.6},{"x":-1.22,"y":-0.08,"z":-0.5},{"x":-1.35,"y":-0.12,"z":-0.2},{"x":-0.85,"y":-0.22,"z":-0.5},{"x":-0.72,"y":-0.25,"z":0.3},{"x":-0.55,"y":-0.22,"z":-0.4},{"x":-0.3,"y":-0.18,"z":-0.6},{"x":-0.25,"y":-0.45,"z":0.4},{"x":-0.12,"y":-0.55,"z":0.6},{"x":0.15,"y":-0.48,"z":-0.2},{"x":0.38,"y":-0.52,"z":0.5},{"x":0.22,"y":-0.35,"z":-0.5},{"x":0.38,"y":-0.1,"z":-0.6},{"x":0.2,"y":0.15,"z":-0.7},{"x":-0.05,"y":0.12,"z":-0.7},{"x":-0.28,"y":0.0,"z":-0.7},{"x":-0.4,"y":0.05,"z":-0.6},{"x":-0.28,"y":0.42,"z":-0.6},{"x":0.12,"y":0.35,"z":-0.6},{"x":0.38,"y":0.45,"z":-0.7},{"x":0.4,"y":0.1,"z":-0.5},{"x":0.5,"y":-0.12,"z":-0.5},{"x":0.75,"y":-0.18,"z":-0.6},{"x":0.9,"y":0.12,"z":-0.6},{"x":1.05,"y":0.12,"z":-0.6},{"x":0.95,"y":-0.22,"z":-0.4},{"x":1.22,"y":-0.3,"z":-0.5},{"x":1.35,"y":-0.25,"z":-0.4},{"x":1.02,"y":-0.45,"z":-0.5},{"x":0.78,"y":-0.6,"z":-0.4},{"x":0.55,"y":-0.75,"z":-0.5},{"x":0.35,"y":-0.8,"z":0.4},{"x":0.15,"y":-0.8,"z":0.5},{"x":-0.1,"y":-0.85,"z":0.5},{"x":-0.35,"y":-0.82,"z":0.4},{"x":-0.58,"y":-0.9,"z":0.3},{"x":-0.8,"y":-0.78,"z":-0.4},{"x":-0.55,"y":-0.65,"z":0.3},{"x":-0.98,"y":-0.52,"z":0.4},{"x":-1.15,"y":-0.48,"z":-0.5},{"x":-0.72,"y":0.52,"z":-0.5},{"x":-0.42,"y":0.52,"z":-0.5},{"x":-0.92,"y":0.5,"z":0.4},{"x":-1.05,"y":0.62,"z":-0.4},{"x":-0.28,"y":0.62,"z":0.3},{"x":-0.08,"y":0.72,"z":0.1},{"x":0.3,"y":0.6,"z":0.1},{"x":0.52,"y":0.78,"z":-0.5},{"x":0.8,"y":0.6,"z":0.2},{"x":0.95,"y":0.58,"z":-0.5},{"x":1.15,"y":0.55,"z":0.3},{"x":1.25,"y":0.38,"z":0.3},{"x":0.3,"y":0.78,"z":-0.3},{"x":0.05,"y":0.9,"z":0.4},{"x":-0.25,"y":0.9,"z":0.1},{"x":-0.7,"y":0.88,"z":0.3},{"x":-0.55,"y":1.22,"z":0.6},{"x":0.42,"y":1.22,"z":0.1},{"x":0.58,"y":1.18,"z":0.5},
{"x":-1.5,"y":-0.22,"z":0.3},{"x":-1.48,"y":-0.38,"z":0.2},{"x":-1.4,"y":-0.55,"z":0.4},{"x":-1.3,"y":-0.7,"z":0.3},{"x":-1.05,"y":-0.7,"z":0.5},{"x":-0.82,"y":-0.65,"z":-0.3},{"x":-0.55,"y":-0.52,"z":-0.3},{"x":-1.0,"y":-0.2,"z":-0.4},{"x":-1.18,"y":-0.22,"z":-0.5},{"x":-1.42,"y":0.22,"z":0.4},{"x":-1.28,"y":0.55,"z":0.7},{"x":-1.05,"y":0.82,"z":0.9},{"x":-0.85,"y":1.08,"z":0.7},{"x":-0.32,"y":1.0,"z":0.9},{"x":-0.55,"y":0.85,"z":0.7},{"x":-0.22,"y":0.72,"z":0.5},{"x":0.12,"y":1.02,"z":0.9},{"x":0.25,"y":1.08,"z":0.4},{"x":0.7,"y":1.0,"z":0.6},{"x":0.85,"y":0.85,"z":0.5},{"x":1.12,"y":0.82,"z":0.9},{"x":1.3,"y":0.48,"z":0.8},{"x":1.4,"y":0.28,"z":0.7},{"x":1.1,"y":0.25,"z":-0.5},{"x":0.95,"y":0.18,"z":-0.7},{"x":1.05,"y":-0.25,"z":0.4},{"x":0.88,"y":-0.02,"z":0.3},{"x":0.72,"y":-0.12,"z":0.6},{"x":0.55,"y":-0.25,"z":0.8},{"x":0.45,"y":-0.15,"z":1.0},{"x":0.15,"y":-0.02,"z":0.6},{"x":0.32,"y":0.05,"z":0.5},{"x":0.2,"y":-0.12,"z":1.0},{"x":-0.02,"y":-0.22,"z":0.4},{"x":-0.22,"y":-0.25,"z":0.5},{"x":-0.2,"y":-0.42,"z":0.9},{"x":0.15,"y":-0.52,"z":0.9},{"x":0.1,"y":-0.68,"z":1.0},{"x":-0.1,"y":-0.68,"z":1.1},{"x":-0.3,"y":-0.7,"z":0.7},{"x":-0.52,"y":-0.72,"z":1.2},{"x":-0.7,"y":-0.95,"z":0.5},{"x":-0.4,"y":-0.95,"z":0.7},{"x":-0.15,"y":-0.98,"z":1.1},{"x":0.1,"y":-0.92,"z":1.0},{"x":0.35,"y":-0.95,"z":0.5},{"x":0.68,"y":-0.92,"z":-0.3},{"x":0.85,"y":-0.95,"z":0.7},{"x":1.02,"y":-0.78,"z":0.6},{"x":1.28,"y":-0.55,"z":-0.6},{"x":1.38,"y":-0.45,"z":-0.7},{"x":1.45,"y":-0.25,"z":-0.5},{"x":1.1,"y":-0.42,"z":-0.6},{"x":0.92,"y":-0.42,"z":-0.7},{"x":0.6,"y":-0.55,"z":-0.9},{"x":0.32,"y":-0.55,"z":0.6},{"x":-0.7,"y":-0.42,"z":0.8},{"x":-0.75,"y":-0.22,"z":-0.9},{"x":-0.35,"y":-0.08,"z":-0.4},{"x":-0.05,"y":0.22,"z":-0.6},{"x":-0.25,"y":0.15,"z":-0.7},{"x":-0.55,"y":0.72,"z":-0.4},{"x":-0.82,"y":0.82,"z":-0.3},{"x":-0.25,"y":0.98,"z":0.7},{"x":0.18,"y":0.78,"z":0.3},{"x":0.35,"y":0.48,"z":-0.3},{"x":0.8,"y":0.42,"z":-1.0},{"x":0.92,"y":0.28,"z":-1.0},{"x":0.78,"y":0.25,"z":-1.15},{"x":1.12,"y":0.3,"z":-0.8},{"x":1.28,"y":0.02,"z":-0.9},{"x":1.28,"y":-0.1,"z":-0.8},{"x":1.12,"y":-0.02,"z":-0.9},{"x":-1.02,"y":0.35,"z":-1.0},{"x":-1.15,"y":0.28,"z":-1.1},{"x":-1.22,"y":0.2,"z":-1.0},{"x":-1.1,"y":0.02,"z":-1.1},{"x":-0.85,"y":0.15,"z":-1.0},{"x":-0.7,"y":0.4,"z":-0.6},{"x":-0.55,"y":0.65,"z":-0.6},{"x":-0.4,"y":0.62,"z":-0.7}]
},
"spacing":20,
"resolve":{"scale":{"color":"independent"}},
"config":{"font":"DejaVu Sans","view":{"stroke":"#444","strokeWidth":1},"axis":{"grid":false,"domainColor":"#444","tickColor":"#333","tickSize":3.5,"labelFontSize":9,"labelColor":"#111","titleFontSize":8.5,"titleFontWeight":"normal","titleColor":"#111","labelPadding":2,"titlePadding":3},"title":{"fontSize":9.8,"fontWeight":"normal","font":"DejaVu Sans"},"legend":{"gradientLength":358,"gradientThickness":18,"gradientStrokeColor":"#444","gradientStrokeWidth":1,"labelFontSize":9,"labelColor":"#111","titleFontSize":8.5,"titleFontWeight":"normal","titleColor":"#111","offset":24,"padding":0}},
"hconcat":[
{"title":{"text":"2D Scatter Plot - Body joints direct vectors","anchor":"middle","offset":3,"fontSize":9.8,"fontWeight":"normal"},"width":385,"height":358,
"encoding":{"x":{"field":"x","type":"quantitative","title":"X","scale":{"domain":[-2.08,2.08],"nice":false},"axis":{"values":[-2,-1.5,-1,-0.5,0,0.5,1,1.5,2],"format":".1f"}},"y":{"field":"y","type":"quantitative","title":"Y","scale":{"domain":[-1.92,1.17],"nice":false},"axis":{"values":[-1.5,-1,-0.5,0,0.5,1],"format":".1f"}},"color":{"field":"z","type":"quantitative","title":"Z","scale":{"scheme":"viridis","domain":[-1.79,1.74],"nice":false},"legend":{"values":[-1.5,-1,-0.5,0,0.5,1,1.5],"format":".1f","titleOrient":"right","titleAngle":90,"titleAnchor":"middle"}}},
"layer":[
{"data":{"name":"bodyMid"},"mark":{"type":"point","filled":true,"opacity":1,"size":196,"strokeWidth":0}},
{"data":{"name":"bodyOut"},"mark":{"type":"point","filled":true,"opacity":1,"size":49,"strokeWidth":0}},
{"data":{"name":"bodyA"},"mark":{"type":"point","filled":true,"opacity":1,"size":48400,"strokeWidth":0}},
{"data":{"name":"bodyB"},"mark":{"type":"point","filled":true,"opacity":1,"size":40000,"strokeWidth":0}},
{"data":{"name":"bodyC"},"mark":{"type":"point","filled":true,"opacity":1,"size":33856,"strokeWidth":0}},
{"data":{"name":"bodyD"},"mark":{"type":"point","filled":true,"opacity":1,"size":28900,"strokeWidth":0}},
{"data":{"name":"bodyE"},"mark":{"type":"point","filled":true,"opacity":1,"size":22500,"strokeWidth":0}},
{"data":{"name":"bodyE2"},"mark":{"type":"point","filled":true,"opacity":1,"size":16900,"strokeWidth":0}},
{"data":{"name":"bodyF"},"mark":{"type":"point","filled":true,"opacity":1,"size":12100,"strokeWidth":0}},
{"data":{"name":"bodyF2"},"mark":{"type":"point","filled":true,"opacity":1,"size":8100,"strokeWidth":0}},
{"data":{"name":"bodyG"},"mark":{"type":"point","filled":true,"opacity":1,"size":4900,"strokeWidth":0}},
{"data":{"name":"bodyH"},"mark":{"type":"point","filled":true,"opacity":1,"size":1600,"strokeWidth":0}},
{"data":{"name":"bodyIn"},"mark":{"type":"point","filled":true,"opacity":1,"size":49,"strokeWidth":0}}
]},
{"title":{"text":"2D Scatter Plot - Hand joints direct vectors","anchor":"middle","offset":3,"fontSize":9.8,"fontWeight":"normal"},"width":382,"height":358,
"encoding":{"x":{"field":"x","type":"quantitative","title":"X","scale":{"domain":[-1.73,1.7],"nice":false},"axis":{"values":[-1.5,-1,-0.5,0,0.5,1,1.5],"format":".1f"}},"y":{"field":"y","type":"quantitative","title":"Y","scale":{"domain":[-1.42,1.54],"nice":false},"axis":{"values":[-1,-0.5,0,0.5,1,1.5],"format":".1f"}},"color":{"field":"z","type":"quantitative","title":null,"scale":{"scheme":"plasma","domain":[-1.22,1.69],"nice":false},"legend":{"values":[-1,-0.5,0,0.5,1,1.5],"format":".1f"}}},
"layer":[
{"data":{"name":"hR120"},"mark":{"type":"point","filled":true,"opacity":1,"size":57600,"strokeWidth":0}},
{"data":{"name":"hR114"},"mark":{"type":"point","filled":true,"opacity":1,"size":51984,"strokeWidth":0}},
{"data":{"name":"hR108"},"mark":{"type":"point","filled":true,"opacity":1,"size":46656,"strokeWidth":0}},
{"data":{"name":"hR99"},"mark":{"type":"point","filled":true,"opacity":1,"size":39204,"strokeWidth":0}},
{"data":{"name":"hR90"},"mark":{"type":"point","filled":true,"opacity":1,"size":32400,"strokeWidth":0}},
{"data":{"name":"hR80"},"mark":{"type":"point","filled":true,"opacity":1,"size":25600,"strokeWidth":0}},
{"data":{"name":"hR70"},"mark":{"type":"point","filled":true,"opacity":1,"size":19600,"strokeWidth":0}},
{"data":{"name":"hR60"},"mark":{"type":"point","filled":true,"opacity":1,"size":14400,"strokeWidth":0}},
{"data":{"name":"hR50"},"mark":{"type":"point","filled":true,"opacity":1,"size":10000,"strokeWidth":0}},
{"data":{"name":"handDots"},"mark":{"type":"point","filled":true,"opacity":1,"size":49,"strokeWidth":0}}
]}
]}
